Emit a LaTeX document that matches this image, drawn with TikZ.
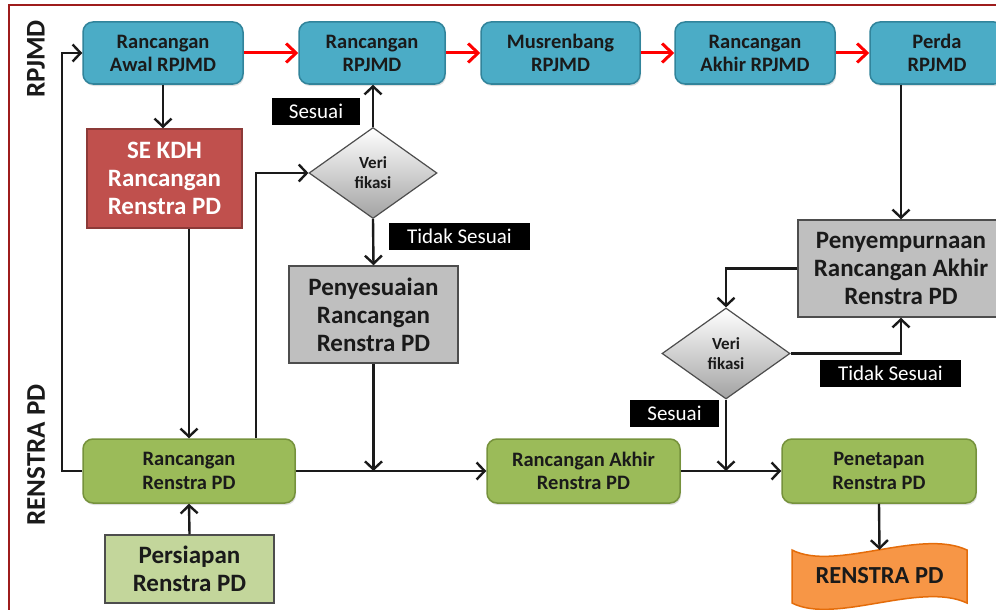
\documentclass[tikz,border=0pt]{standalone}
\usepackage{fontspec}
\setmainfont{Carlito}
\usetikzlibrary{arrows.meta,shapes.geometric,positioning,shadows}
\definecolor{frame}{HTML}{9E1C1C}
\definecolor{aqua}{HTML}{4BACC6}
\definecolor{aquadk}{HTML}{31849B}
\definecolor{brick}{HTML}{C0504D}
\definecolor{brickdk}{HTML}{8C3A38}
\definecolor{leaf}{HTML}{9BBB59}
\definecolor{leafdk}{HTML}{76923C}
\definecolor{pale}{HTML}{C3D69B}
\definecolor{ash}{HTML}{BFBFBF}
\definecolor{edge}{HTML}{4D4D4D}
\definecolor{amber}{HTML}{F79646}
\definecolor{amberdk}{HTML}{E46C0A}
\definecolor{ink}{HTML}{1A1A1A}
\tikzset{
  rbox/.style={draw=aquadk, fill=aqua, line width=1.5pt, rounded corners=10pt, minimum height=62pt, inner sep=0pt, align=center, text=ink, font=\fontsize{20.5}{23}\selectfont\bfseries, drop shadow={opacity=.25, shadow xshift=1pt, shadow yshift=-2pt}},
  gbox/.style={draw=leafdk, fill=leaf, line width=1.5pt, rounded corners=10pt, minimum height=64pt, inner sep=0pt, align=center, text=ink, font=\fontsize{20.5}{23.5}\selectfont\bfseries, drop shadow={opacity=.25, shadow xshift=1pt, shadow yshift=-2pt}},
  abox/.style={draw=edge, fill=ash, line width=1.5pt, inner sep=0pt, align=center, text=ink, font=\fontsize{25}{28}\selectfont\bfseries},
  ebox/.style={draw=brickdk, fill=brick, line width=1.5pt, inner sep=0pt, align=center, text=white, font=\fontsize{25}{28}\selectfont\bfseries},
  ver/.style={diamond, draw=edge, line width=1.2pt, top color=white, bottom color=ash!85!black, minimum width=128pt, minimum height=91pt, inner sep=0pt, align=center, text=ink, font=\fontsize{17}{20}\selectfont\bfseries},
  tag/.style={fill=black, text=white, minimum height=27pt, inner sep=0pt, font=\fontsize{21}{24}\selectfont},
  side/.style={text=ink, font=\fontsize{27}{30}\selectfont\bfseries, rotate=90},
  conn/.style={draw=ink, line width=2.4pt, -{Straight Barb[length=8pt,width=17pt]}},
  hot/.style={draw=red, line width=3pt, -{Straight Barb[length=10pt,width=19pt]}},
}
\begin{document}
\begin{tikzpicture}[x=1pt, y=-1pt]
\useasboundingbox[fill=white] (0,0) rectangle (996,610);
\draw[frame, line width=2pt] (9,625) |- (1010,5);

% lanes
\node[side] (lanea) at (36,59) {RPJMD};
\node[side] (laneb) at (36,455) {RENSTRA PD};

% RPJMD row
\node[rbox, minimum width=160pt] (awal) at (163,53) {Rancangan\\Awal RPJMD};
\node[rbox, minimum width=146pt] (rrpj) at (372,53) {Rancangan\\RPJMD};
\node[rbox, minimum width=159pt] (musr) at (560.5,53) {Musrenbang\\RPJMD};
\node[rbox, minimum width=160pt] (akhr) at (755,53) {Rancangan\\Akhir RPJMD};
\node[rbox, minimum width=134pt] (perda) at (937,53) {Perda\\RPJMD};

\node[ebox, minimum width=155pt, minimum height=99pt] (sekdh) at (164.5,178.5) {SE KDH\\Rancangan\\Renstra PD};
\node[ver] (ver1) at (373,173) {Veri\\fikasi};
\node[tag, minimum width=88pt] (ok1) at (316,111.5) {Sesuai};
\node[tag, minimum width=141pt] (no1) at (459.5,236.5) {Tidak Sesuai};
\node[abox, minimum width=169pt, minimum height=97pt] (penys) at (373.5,314.5) {Penyesuaian\\Rancangan\\Renstra PD};

\node[abox, minimum width=206pt, minimum height=97pt] (penym) at (901,268.5) {Penyempurnaan\\Rancangan Akhir\\Renstra PD};
\node[ver] (ver2) at (726,353.5) {Veri\\fikasi};
\node[tag, minimum width=141pt] (no2) at (890.5,373.5) {Tidak Sesuai};
\node[tag, minimum width=89pt] (ok2) at (674.5,413) {Sesuai};

% RENSTRA PD row
\node[gbox, minimum width=212pt] (rren) at (189,471) {Rancangan\\Renstra PD};
\node[abox, fill=pale, minimum width=169pt, minimum height=68pt] (prep) at (189.5,569) {Persiapan\\Renstra PD};
\node[gbox, minimum width=193pt] (rakh) at (583.5,471) {Rancangan Akhir\\Renstra PD};
\node[gbox, minimum width=194pt] (penet) at (879,471) {Penetapan\\Renstra PD};

\draw[amberdk, fill=amber, line width=1.5pt] (792,550) .. controls (835,572) and (920,528) .. (967,550)
  -- (967,603) .. controls (920,581) and (835,625) .. (792,603) -- cycle;
\node[minimum width=175pt, minimum height=52pt, inner sep=0pt, text=ink, font=\fontsize{24.5}{28}\selectfont\bfseries] (final) at (879.5,576) {RENSTRA PD};

% alur
\draw[hot] (awal) -- (rrpj);
\draw[hot] (rrpj) -- (musr);
\draw[hot] (musr) -- (akhr);
\draw[hot] (akhr) -- (perda);

\draw[conn] (awal.south) -- (awal.south |- sekdh.north);
\draw[conn] (rren.north |- sekdh.south) -- (rren.north);
\draw[conn] (rren.west) -- ++(-20,0) |- (awal.west);
\draw[conn] ([xshift=-40pt]rren.north east) |- (ver1.west);
\draw[conn] (ver1.north) -- (ver1.north |- rrpj.south);
\draw[conn] (ver1.south) -- (penys.north);
\draw[conn] (penys.south) -- (penys.south |- rren.east);
\draw[conn] (rren.east) -- (rakh.west);
\draw[conn] (prep.north) -- (rren.south);

\draw[conn] (penym.north |- perda.south) -- (penym.north);
\draw[conn] (penym.west) -| (ver2.north);
\draw[conn] (ver2.east) -| (penym.south);
\draw[conn] (ver2.south) -- (ver2.south |- rakh.east);
\draw[conn] (rakh.east) -- (penet.west);
\draw[conn] (penet.south) -- (final.north);
\end{tikzpicture}
\end{document}
